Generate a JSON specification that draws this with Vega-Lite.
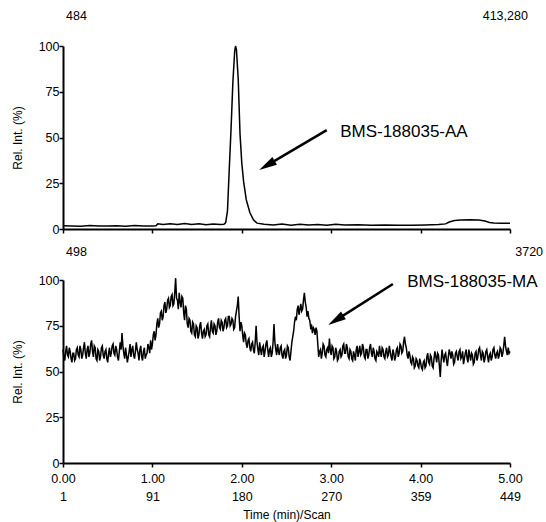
{
  "$schema": "https://vega.github.io/schema/vega-lite/v6.json",
  "background": "white",
  "padding": {"left": 11, "top": 9, "right": 5, "bottom": 5},
  "config": {
    "font": "Liberation Sans",
    "view": {"stroke": null},
    "title": {"font": "Liberation Sans", "fontSize": 12.5, "fontWeight": "normal", "color": "black", "anchor": "start", "frame": "group"},
    "axis": {
      "grid": false,
      "labelFlush": false,
      "domainColor": "black",
      "domainWidth": 2,
      "tickColor": "black",
      "tickWidth": 1.5,
      "tickSize": 4,
      "labelColor": "black",
      "labelFont": "Liberation Sans",
      "labelFontSize": 12.5,
      "titleFont": "Liberation Sans",
      "titleFontSize": 12,
      "titleFontWeight": "normal",
      "titleColor": "black"
    }
  },
  "datasets": {
    "top": [
      {"t":0.00,"v":1.8},{"t":0.10,"v":1.6},{"t":0.20,"v":1.5},{"t":0.30,"v":1.9},{"t":0.40,"v":1.7},{"t":0.50,"v":1.6},{"t":0.60,"v":1.8},{"t":0.70,"v":1.5},{"t":0.80,"v":1.9},{"t":0.90,"v":1.7},{"t":1.00,"v":1.7},{"t":1.04,"v":1.8},{"t":1.06,"v":2.8},{"t":1.12,"v":2.5},{"t":1.20,"v":2.9},{"t":1.28,"v":2.4},{"t":1.36,"v":3.0},{"t":1.44,"v":2.5},{"t":1.52,"v":2.8},{"t":1.60,"v":2.3},{"t":1.68,"v":2.7},{"t":1.76,"v":2.4},{"t":1.80,"v":2.6},
      {"t":1.82,"v":3.5},{"t":1.84,"v":10},{"t":1.86,"v":33},{"t":1.88,"v":55},{"t":1.90,"v":80},{"t":1.92,"v":97},{"t":1.93,"v":100},{"t":1.94,"v":98},{"t":1.96,"v":82},{"t":1.98,"v":52},{"t":2.00,"v":36},{"t":2.02,"v":26},{"t":2.05,"v":16},{"t":2.09,"v":9},{"t":2.13,"v":5},{"t":2.17,"v":3.2},
      {"t":2.25,"v":2.6},{"t":2.35,"v":2.2},{"t":2.45,"v":2.7},{"t":2.55,"v":2.1},{"t":2.65,"v":2.6},{"t":2.75,"v":2.2},{"t":2.85,"v":2.5},{"t":2.95,"v":2.1},{"t":3.05,"v":2.6},{"t":3.15,"v":2.2},{"t":3.30,"v":2.3},{"t":3.45,"v":2.0},{"t":3.60,"v":2.2},{"t":3.75,"v":2.0},{"t":3.90,"v":2.1},{"t":4.05,"v":2.2},{"t":4.20,"v":2.4},{"t":4.28,"v":2.8},{"t":4.32,"v":3.8},{"t":4.38,"v":4.6},{"t":4.45,"v":4.9},{"t":4.55,"v":5.1},{"t":4.65,"v":4.9},{"t":4.72,"v":4.4},{"t":4.77,"v":3.6},{"t":4.82,"v":3.3},{"t":4.90,"v":3.2},{"t":5.00,"v":3.2}
    ],
    "bottom": [
      {"t":0.00,"v":62},{"t":0.01,"v":58},{"t":0.02,"v":56},{"t":0.03,"v":61},{"t":0.04,"v":64},{"t":0.05,"v":59},{"t":0.06,"v":58},{"t":0.07,"v":63},{"t":0.08,"v":61},{"t":0.09,"v":57},
      {"t":0.10,"v":55},{"t":0.11,"v":60},{"t":0.12,"v":60},{"t":0.13,"v":56},{"t":0.14,"v":57},{"t":0.15,"v":62},{"t":0.16,"v":63},{"t":0.17,"v":59},{"t":0.18,"v":58},{"t":0.19,"v":64},
      {"t":0.20,"v":62},{"t":0.21,"v":57},{"t":0.22,"v":59},{"t":0.23,"v":63},{"t":0.24,"v":66},{"t":0.25,"v":60},{"t":0.26,"v":57},{"t":0.27,"v":62},{"t":0.28,"v":64},{"t":0.29,"v":58},
      {"t":0.30,"v":60},{"t":0.31,"v":65},{"t":0.32,"v":67},{"t":0.33,"v":61},{"t":0.34,"v":58},{"t":0.35,"v":64},{"t":0.36,"v":63},{"t":0.37,"v":57},{"t":0.38,"v":56},{"t":0.39,"v":62},
      {"t":0.40,"v":61},{"t":0.41,"v":56},{"t":0.42,"v":58},{"t":0.43,"v":63},{"t":0.44,"v":64},{"t":0.45,"v":59},{"t":0.46,"v":57},{"t":0.47,"v":61},{"t":0.48,"v":62},{"t":0.49,"v":57},
      {"t":0.50,"v":55},{"t":0.51,"v":60},{"t":0.52,"v":63},{"t":0.53,"v":58},{"t":0.54,"v":60},{"t":0.55,"v":64},{"t":0.56,"v":65},{"t":0.57,"v":60},{"t":0.58,"v":59},{"t":0.59,"v":64},
      {"t":0.60,"v":62},{"t":0.61,"v":58},{"t":0.62,"v":56},{"t":0.63,"v":61},{"t":0.64,"v":66},{"t":0.65,"v":62},{"t":0.66,"v":71},{"t":0.67,"v":64},{"t":0.68,"v":60},{"t":0.69,"v":57},
      {"t":0.70,"v":63},{"t":0.71,"v":59},{"t":0.72,"v":55},{"t":0.73,"v":58},{"t":0.74,"v":61},{"t":0.75,"v":65},{"t":0.76,"v":58},{"t":0.77,"v":62},{"t":0.78,"v":64},{"t":0.79,"v":59},
      {"t":0.80,"v":57},{"t":0.81,"v":61},{"t":0.82,"v":66},{"t":0.83,"v":62},{"t":0.84,"v":60},{"t":0.85,"v":56},{"t":0.86,"v":62},{"t":0.87,"v":64},{"t":0.88,"v":58},{"t":0.89,"v":56},
      {"t":0.90,"v":61},{"t":0.91,"v":63},{"t":0.92,"v":57},{"t":0.93,"v":59},{"t":0.94,"v":60},{"t":0.95,"v":65},{"t":0.96,"v":63},{"t":0.97,"v":60},{"t":0.98,"v":67},{"t":0.99,"v":62},
      {"t":1.00,"v":65},{"t":1.01,"v":70},{"t":1.02,"v":72},{"t":1.03,"v":67},{"t":1.04,"v":70},{"t":1.05,"v":76},{"t":1.06,"v":79},{"t":1.07,"v":74},{"t":1.08,"v":76},{"t":1.09,"v":82},
      {"t":1.10,"v":83},{"t":1.11,"v":78},{"t":1.12,"v":80},{"t":1.13,"v":86},{"t":1.14,"v":88},{"t":1.15,"v":82},{"t":1.16,"v":84},{"t":1.17,"v":89},{"t":1.18,"v":90},{"t":1.19,"v":85},
      {"t":1.20,"v":86},{"t":1.21,"v":91},{"t":1.22,"v":92},{"t":1.23,"v":86},{"t":1.24,"v":87},{"t":1.25,"v":93},{"t":1.26,"v":101},{"t":1.27,"v":90},{"t":1.28,"v":89},{"t":1.29,"v":84},
      {"t":1.30,"v":93},{"t":1.31,"v":88},{"t":1.32,"v":85},{"t":1.33,"v":91},{"t":1.34,"v":90},{"t":1.35,"v":82},{"t":1.36,"v":78},{"t":1.37,"v":86},{"t":1.38,"v":84},{"t":1.39,"v":76},
      {"t":1.40,"v":74},{"t":1.41,"v":79},{"t":1.42,"v":78},{"t":1.43,"v":72},{"t":1.44,"v":71},{"t":1.45,"v":77},{"t":1.46,"v":76},{"t":1.47,"v":70},{"t":1.48,"v":69},{"t":1.49,"v":75},
      {"t":1.50,"v":74},{"t":1.51,"v":68},{"t":1.52,"v":70},{"t":1.53,"v":75},{"t":1.54,"v":77},{"t":1.55,"v":71},{"t":1.56,"v":68},{"t":1.57,"v":72},{"t":1.58,"v":73},{"t":1.59,"v":69},
      {"t":1.60,"v":70},{"t":1.61,"v":75},{"t":1.62,"v":76},{"t":1.63,"v":70},{"t":1.64,"v":69},{"t":1.65,"v":74},{"t":1.66,"v":78},{"t":1.67,"v":72},{"t":1.68,"v":71},{"t":1.69,"v":76},
      {"t":1.70,"v":75},{"t":1.71,"v":70},{"t":1.72,"v":72},{"t":1.73,"v":77},{"t":1.74,"v":79},{"t":1.75,"v":74},{"t":1.76,"v":73},{"t":1.77,"v":78},{"t":1.78,"v":77},{"t":1.79,"v":72},
      {"t":1.80,"v":74},{"t":1.81,"v":78},{"t":1.82,"v":79},{"t":1.83,"v":74},{"t":1.84,"v":75},{"t":1.85,"v":80},{"t":1.86,"v":80},{"t":1.87,"v":75},{"t":1.88,"v":76},{"t":1.89,"v":79},
      {"t":1.90,"v":78},{"t":1.91,"v":73},{"t":1.92,"v":74},{"t":1.93,"v":80},{"t":1.94,"v":83},{"t":1.95,"v":86},{"t":1.96,"v":91},{"t":1.97,"v":80},{"t":1.98,"v":72},{"t":1.99,"v":77},
      {"t":2.00,"v":75},{"t":2.01,"v":70},{"t":2.02,"v":66},{"t":2.03,"v":71},{"t":2.04,"v":70},{"t":2.05,"v":65},{"t":2.06,"v":63},{"t":2.07,"v":67},{"t":2.08,"v":68},{"t":2.09,"v":63},
      {"t":2.10,"v":61},{"t":2.11,"v":65},{"t":2.12,"v":66},{"t":2.13,"v":62},{"t":2.14,"v":60},{"t":2.15,"v":66},{"t":2.16,"v":75},{"t":2.17,"v":66},{"t":2.18,"v":62},{"t":2.19,"v":59},
      {"t":2.20,"v":66},{"t":2.21,"v":62},{"t":2.22,"v":59},{"t":2.23,"v":63},{"t":2.24,"v":64},{"t":2.25,"v":58},{"t":2.26,"v":61},{"t":2.27,"v":65},{"t":2.28,"v":67},{"t":2.29,"v":62},
      {"t":2.30,"v":58},{"t":2.31,"v":62},{"t":2.32,"v":63},{"t":2.33,"v":58},{"t":2.34,"v":60},{"t":2.35,"v":66},{"t":2.36,"v":76},{"t":2.37,"v":66},{"t":2.38,"v":62},{"t":2.39,"v":59},
      {"t":2.40,"v":65},{"t":2.41,"v":61},{"t":2.42,"v":59},{"t":2.43,"v":63},{"t":2.44,"v":64},{"t":2.45,"v":59},{"t":2.46,"v":57},{"t":2.47,"v":61},{"t":2.48,"v":62},{"t":2.49,"v":57},
      {"t":2.50,"v":59},{"t":2.51,"v":64},{"t":2.52,"v":63},{"t":2.53,"v":58},{"t":2.54,"v":56},{"t":2.55,"v":61},{"t":2.56,"v":66},{"t":2.57,"v":69},{"t":2.58,"v":72},{"t":2.59,"v":77},
      {"t":2.60,"v":80},{"t":2.61,"v":78},{"t":2.62,"v":84},{"t":2.63,"v":86},{"t":2.64,"v":81},{"t":2.65,"v":84},{"t":2.66,"v":87},{"t":2.67,"v":83},{"t":2.68,"v":84},{"t":2.69,"v":89},
      {"t":2.70,"v":93},{"t":2.71,"v":88},{"t":2.72,"v":85},{"t":2.73,"v":80},{"t":2.74,"v":83},{"t":2.75,"v":79},{"t":2.76,"v":78},{"t":2.77,"v":74},{"t":2.78,"v":75},{"t":2.79,"v":71},
      {"t":2.80,"v":74},{"t":2.81,"v":73},{"t":2.82,"v":70},{"t":2.83,"v":74},{"t":2.84,"v":72},{"t":2.85,"v":65},{"t":2.86,"v":58},{"t":2.87,"v":61},{"t":2.88,"v":62},{"t":2.89,"v":57},
      {"t":2.90,"v":60},{"t":2.91,"v":65},{"t":2.92,"v":64},{"t":2.93,"v":59},{"t":2.94,"v":58},{"t":2.95,"v":62},{"t":2.96,"v":63},{"t":2.97,"v":60},{"t":2.98,"v":68},{"t":2.99,"v":62},
      {"t":3.00,"v":59},{"t":3.01,"v":64},{"t":3.02,"v":63},{"t":3.03,"v":57},{"t":3.04,"v":58},{"t":3.05,"v":63},{"t":3.06,"v":61},{"t":3.07,"v":56},{"t":3.08,"v":57},{"t":3.09,"v":61},
      {"t":3.10,"v":62},{"t":3.11,"v":58},{"t":3.12,"v":59},{"t":3.13,"v":64},{"t":3.14,"v":65},{"t":3.15,"v":60},{"t":3.16,"v":60},{"t":3.17,"v":65},{"t":3.18,"v":63},{"t":3.19,"v":58},
      {"t":3.20,"v":57},{"t":3.21,"v":62},{"t":3.22,"v":61},{"t":3.23,"v":57},{"t":3.24,"v":56},{"t":3.25,"v":61},{"t":3.26,"v":59},{"t":3.27,"v":56},{"t":3.28,"v":62},{"t":3.29,"v":64},
      {"t":3.30,"v":58},{"t":3.31,"v":61},{"t":3.32,"v":64},{"t":3.33,"v":59},{"t":3.34,"v":60},{"t":3.35,"v":65},{"t":3.36,"v":63},{"t":3.37,"v":58},{"t":3.38,"v":57},{"t":3.39,"v":62},
      {"t":3.40,"v":62},{"t":3.41,"v":57},{"t":3.42,"v":59},{"t":3.43,"v":63},{"t":3.44,"v":65},{"t":3.45,"v":60},{"t":3.46,"v":58},{"t":3.47,"v":63},{"t":3.48,"v":61},{"t":3.49,"v":57},
      {"t":3.50,"v":56},{"t":3.51,"v":61},{"t":3.52,"v":60},{"t":3.53,"v":58},{"t":3.54,"v":64},{"t":3.55,"v":60},{"t":3.56,"v":58},{"t":3.57,"v":63},{"t":3.58,"v":62},{"t":3.59,"v":58},
      {"t":3.60,"v":57},{"t":3.61,"v":61},{"t":3.62,"v":63},{"t":3.63,"v":58},{"t":3.64,"v":59},{"t":3.65,"v":64},{"t":3.66,"v":61},{"t":3.67,"v":58},{"t":3.68,"v":56},{"t":3.69,"v":62},
      {"t":3.70,"v":60},{"t":3.71,"v":56},{"t":3.72,"v":58},{"t":3.73,"v":62},{"t":3.74,"v":63},{"t":3.75,"v":58},{"t":3.76,"v":60},{"t":3.77,"v":65},{"t":3.78,"v":64},{"t":3.79,"v":60},
      {"t":3.80,"v":61},{"t":3.81,"v":66},{"t":3.82,"v":69},{"t":3.83,"v":65},{"t":3.84,"v":63},{"t":3.85,"v":59},{"t":3.86,"v":57},{"t":3.87,"v":61},{"t":3.88,"v":59},{"t":3.89,"v":55},
      {"t":3.90,"v":54},{"t":3.91,"v":58},{"t":3.92,"v":57},{"t":3.93,"v":52},{"t":3.94,"v":53},{"t":3.95,"v":57},{"t":3.96,"v":56},{"t":3.97,"v":53},{"t":3.98,"v":52},{"t":3.99,"v":57},
      {"t":4.00,"v":55},{"t":4.01,"v":52},{"t":4.02,"v":51},{"t":4.03,"v":55},{"t":4.04,"v":56},{"t":4.05,"v":52},{"t":4.06,"v":53},{"t":4.07,"v":58},{"t":4.08,"v":60},{"t":4.09,"v":55},
      {"t":4.10,"v":54},{"t":4.11,"v":59},{"t":4.12,"v":58},{"t":4.13,"v":53},{"t":4.14,"v":52},{"t":4.15,"v":57},{"t":4.16,"v":61},{"t":4.17,"v":58},{"t":4.18,"v":55},{"t":4.19,"v":60},
      {"t":4.20,"v":59},{"t":4.21,"v":53},{"t":4.22,"v":47},{"t":4.23,"v":56},{"t":4.24,"v":62},{"t":4.25,"v":58},{"t":4.26,"v":55},{"t":4.27,"v":59},{"t":4.28,"v":60},{"t":4.29,"v":56},
      {"t":4.30,"v":53},{"t":4.31,"v":58},{"t":4.32,"v":62},{"t":4.33,"v":60},{"t":4.34,"v":57},{"t":4.35,"v":61},{"t":4.36,"v":59},{"t":4.37,"v":54},{"t":4.38,"v":55},{"t":4.39,"v":60},
      {"t":4.40,"v":61},{"t":4.41,"v":58},{"t":4.42,"v":56},{"t":4.43,"v":61},{"t":4.44,"v":62},{"t":4.45,"v":57},{"t":4.46,"v":58},{"t":4.47,"v":61},{"t":4.48,"v":54},{"t":4.49,"v":57},
      {"t":4.50,"v":60},{"t":4.51,"v":62},{"t":4.52,"v":57},{"t":4.53,"v":55},{"t":4.54,"v":62},{"t":4.55,"v":59},{"t":4.56,"v":56},{"t":4.57,"v":60},{"t":4.58,"v":59},{"t":4.59,"v":54},
      {"t":4.60,"v":55},{"t":4.61,"v":60},{"t":4.62,"v":61},{"t":4.63,"v":56},{"t":4.64,"v":58},{"t":4.65,"v":62},{"t":4.66,"v":63},{"t":4.67,"v":59},{"t":4.68,"v":56},{"t":4.69,"v":61},
      {"t":4.70,"v":60},{"t":4.71,"v":55},{"t":4.72,"v":57},{"t":4.73,"v":61},{"t":4.74,"v":62},{"t":4.75,"v":58},{"t":4.76,"v":55},{"t":4.77,"v":59},{"t":4.78,"v":60},{"t":4.79,"v":56},
      {"t":4.80,"v":58},{"t":4.81,"v":62},{"t":4.82,"v":63},{"t":4.83,"v":59},{"t":4.84,"v":57},{"t":4.85,"v":60},{"t":4.86,"v":61},{"t":4.87,"v":57},{"t":4.88,"v":59},{"t":4.89,"v":63},
      {"t":4.90,"v":62},{"t":4.91,"v":58},{"t":4.92,"v":60},{"t":4.93,"v":64},{"t":4.94,"v":69},{"t":4.95,"v":64},{"t":4.96,"v":61},{"t":4.97,"v":59},{"t":4.98,"v":63},{"t":4.99,"v":60},
      {"t":5.00,"v":61}
    ]
  },
  "spacing": 51,
  "bounds": "flush",
  "vconcat": [
    {
      "width": 447,
      "height": 183,
      "title": {"text": "484", "offset": -12.5, "dx": 3},
      "layer": [
        {
          "data": {"name": "top"},
          "mark": {"type": "line", "color": "black", "strokeWidth": 1.5},
          "encoding": {
            "x": {"field": "t", "type": "quantitative", "scale": {"domain": [0, 5]},
                  "axis": {"values": [0, 1, 2, 3, 4, 5], "labels": false, "title": null}},
            "y": {"field": "v", "type": "quantitative", "scale": {"domain": [0, 100]},
                  "axis": {"values": [0, 25, 50, 75, 100], "title": "Rel. Int. (%)", "labelPadding": 0, "titlePadding": 14}}
          }
        },
        {
          "data": {"values": [{"t": 2.95, "v": 54, "t2": 2.31, "v2": 35.6}]},
          "mark": {"type": "rule", "color": "black", "strokeWidth": 2.5},
          "encoding": {
            "x": {"field": "t", "type": "quantitative", "scale": {"domain": [0, 5]}},
            "y": {"field": "v", "type": "quantitative", "scale": {"domain": [0, 100]}},
            "x2": {"field": "t2"},
            "y2": {"field": "v2"}
          }
        },
        {
          "data": {"values": [{"t": 2.31, "v": 35.6}]},
          "mark": {"type": "point", "shape": "M0,-1.2L0.45,0.6L-0.45,0.6Z", "filled": true, "color": "black", "opacity": 1, "size": 400, "angle": 239.5},
          "encoding": {
            "x": {"field": "t", "type": "quantitative", "scale": {"domain": [0, 5]}},
            "y": {"field": "v", "type": "quantitative", "scale": {"domain": [0, 100]}}
          }
        },
        {
          "data": {"values": [{"t": 3.1, "v": 53, "label": "BMS-188035-AA"}]},
          "mark": {"type": "text", "align": "left", "baseline": "middle", "fontSize": 17, "color": "black"},
          "encoding": {
            "x": {"field": "t", "type": "quantitative", "scale": {"domain": [0, 5]}},
            "y": {"field": "v", "type": "quantitative", "scale": {"domain": [0, 100]}},
            "text": {"field": "label"}
          }
        },
        {
          "data": {"values": [{"t": 5.2, "v": 116.4, "label": "413,280"}]},
          "mark": {"type": "text", "align": "right", "baseline": "middle", "fontSize": 12.5, "color": "black"},
          "encoding": {
            "x": {"field": "t", "type": "quantitative", "scale": {"domain": [0, 5]}},
            "y": {"field": "v", "type": "quantitative", "scale": {"domain": [0, 100]}},
            "text": {"field": "label"}
          }
        }
      ]
    },
    {
      "width": 447,
      "height": 183,
      "title": {"text": "498", "offset": -12.5, "dx": 3},
      "layer": [
        {
          "data": {"name": "bottom"},
          "mark": {"type": "line", "color": "black", "strokeWidth": 1.5},
          "encoding": {
            "x": {"field": "t", "type": "quantitative", "scale": {"domain": [0, 5]},
                  "axis": {"values": [0, 1, 2, 3, 4, 5], "format": ".2f", "title": "Time (min)/Scan", "labelPadding": 5, "labelLineHeight": 18, "titlePadding": 7,
                           "labelExpr": "[datum.label, datum.value == 0 ? '1' : datum.value == 1 ? '91' : datum.value == 2 ? '180' : datum.value == 3 ? '270' : datum.value == 4 ? '359' : '449']"}},
            "y": {"field": "v", "type": "quantitative", "scale": {"domain": [0, 100]},
                  "axis": {"values": [0, 25, 50, 75, 100], "title": "Rel. Int. (%)", "labelPadding": 0, "titlePadding": 14}}
          }
        },
        {
          "data": {"values": [{"t": 3.69, "v": 97.8, "t2": 3.08, "v2": 78.9}]},
          "mark": {"type": "rule", "color": "black", "strokeWidth": 2.5},
          "encoding": {
            "x": {"field": "t", "type": "quantitative", "scale": {"domain": [0, 5]}},
            "y": {"field": "v", "type": "quantitative", "scale": {"domain": [0, 100]}},
            "x2": {"field": "t2"},
            "y2": {"field": "v2"}
          }
        },
        {
          "data": {"values": [{"t": 3.08, "v": 78.9}]},
          "mark": {"type": "point", "shape": "M0,-1.2L0.45,0.6L-0.45,0.6Z", "filled": true, "color": "black", "opacity": 1, "size": 400, "angle": 237.8},
          "encoding": {
            "x": {"field": "t", "type": "quantitative", "scale": {"domain": [0, 5]}},
            "y": {"field": "v", "type": "quantitative", "scale": {"domain": [0, 100]}}
          }
        },
        {
          "data": {"values": [{"t": 3.85, "v": 98.9, "label": "BMS-188035-MA"}]},
          "mark": {"type": "text", "align": "left", "baseline": "middle", "fontSize": 17, "color": "black"},
          "encoding": {
            "x": {"field": "t", "type": "quantitative", "scale": {"domain": [0, 5]}},
            "y": {"field": "v", "type": "quantitative", "scale": {"domain": [0, 100]}},
            "text": {"field": "label"}
          }
        },
        {
          "data": {"values": [{"t": 5.37, "v": 115.3, "label": "3720"}]},
          "mark": {"type": "text", "align": "right", "baseline": "middle", "fontSize": 12.5, "color": "black"},
          "encoding": {
            "x": {"field": "t", "type": "quantitative", "scale": {"domain": [0, 5]}},
            "y": {"field": "v", "type": "quantitative", "scale": {"domain": [0, 100]}},
            "text": {"field": "label"}
          }
        }
      ]
    }
  ]
}
